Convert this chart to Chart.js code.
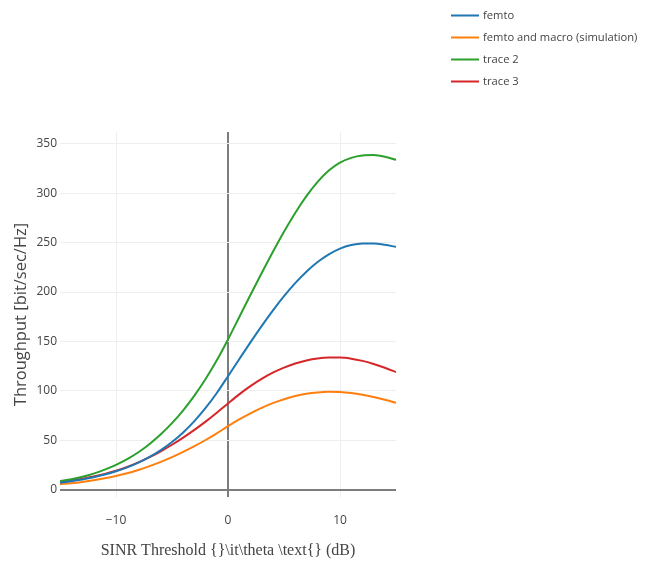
<!DOCTYPE html>
<html>
<head>
<meta charset="utf-8">
<script src="https://cdn.jsdelivr.net/npm/chart.js@4/dist/chart.umd.min.js"></script>
<style>
  html, body { margin: 0; padding: 0; background: #fff; }
  #wrap { width: 652px; height: 561px; }
</style>
</head>
<body>
<div id="wrap"><canvas id="c" width="652" height="561"></canvas></div>
<script>
// SINR threshold (dB)
const sinrDb = [-15,-14,-13,-12,-11,-10,-9,-8,-7,-6,-5,-4,-3,-2,-1,0,1,2,3,4,5,6,7,8,9,10,11,12,13,14,15];

// Throughput [bit/sec/Hz] per series
const femto = [7,8.5,10.3,12.5,15.2,18.5,22.5,27.3,33.1,40,48.2,57.9,69.3,82.6,97.8,114.8,132,149,165.5,181.2,195.8,209,220.6,230.4,238.2,244,247.6,249.2,249.2,247.9,245.7];
const femtoMacroSim = [5.5,6.5,7.8,9.4,11.4,13.8,16.6,19.9,23.7,28,32.8,38.1,43.9,50.2,57,64.2,71,77.2,82.7,87.5,91.5,94.7,97,98.4,99,98.8,97.8,96.1,93.8,91,87.8];
const trace2 = [8.5,10.5,13,16.2,20.2,25,30.8,37.8,46.2,56,67.3,80.3,95.2,112,130.9,152,174.5,197,219,240.5,261,280,297,311.5,323,331,335.8,338.2,338.6,337,333.8];
const trace3 = [8,9.4,11.1,13.2,15.8,19,22.9,27.5,32.8,38.8,45.4,52.6,60.4,68.8,77.8,87.2,96.4,104.7,112,118.3,123.5,127.6,130.6,132.6,133.6,133.6,132.5,130.3,127.2,123.4,119];

const seriesNames = ['femto', 'femto and macro (simulation)', 'trace 2', 'trace 3'];
const seriesColors = ['#1f77b4', '#ff7f0e', '#2ca02c', '#d62728'];
const seriesValues = [femto, femtoMacroSim, trace2, trace3];

const xTicks = [-10, 0, 10];
const yTicks = [0, 50, 100, 150, 200, 250, 300, 350];

const FONT = '"Open Sans", "Noto Sans", sans-serif';
const TEXT = '#444';

const datasets = seriesValues.map((vals, i) => ({
  label: seriesNames[i],
  data: sinrDb.map((x, k) => ({ x: x, y: vals[k] })),
  borderColor: seriesColors[i],
  backgroundColor: seriesColors[i],
  borderWidth: 2,
  pointRadius: 0,
  fill: false,
  cubicInterpolationMode: 'monotone'
}));

// Legend in the top-right corner, drawn after the plot
const cornerLegend = {
  id: 'cornerLegend',
  afterDraw(chart) {
    const ctx = chart.ctx;
    ctx.save();
    ctx.font = '11.2px ' + FONT;
    ctx.textBaseline = 'middle';
    ctx.textAlign = 'left';
    chart.data.datasets.forEach((ds, i) => {
      const y = 15.5 + i * 22;
      ctx.strokeStyle = ds.borderColor;
      ctx.lineWidth = 2;
      ctx.beginPath();
      ctx.moveTo(451, y);
      ctx.lineTo(479, y);
      ctx.stroke();
      ctx.fillStyle = TEXT;
      ctx.fillText(ds.label, 483, y);
    });
    ctx.restore();
  }
};

const zeroAware = (ctx) => (ctx.tick && ctx.tick.value === 0) ? '#7d7d7d' : '#eeeeee';
const zeroWidth = (ctx) => (ctx.tick && ctx.tick.value === 0) ? 2 : 1;

new Chart(document.getElementById('c'), {
  type: 'line',
  data: { datasets: datasets },
  plugins: [cornerLegend],
  options: {
    responsive: false,
    animation: false,
    layout: { padding: { top: 132, right: 256, bottom: 0, left: 0 } },
    plugins: {
      legend: { display: false },
      tooltip: { enabled: false }
    },
    scales: {
      x: {
        type: 'linear',
        min: -15,
        max: 15,
        afterBuildTicks: (s) => { s.ticks = xTicks.map(v => ({ value: v })); },
        afterFit: (s) => { s.height = 64; },
        border: { display: false },
        grid: { color: zeroAware, lineWidth: zeroWidth, drawTicks: false },
        ticks: {
          padding: 16,
          color: TEXT,
          font: { family: FONT, size: 12 },
          maxRotation: 0,
          callback: (v) => (v < 0 ? '\u2212' + Math.abs(v) : String(v))
        },
        title: {
          display: true,
          text: 'SINR Threshold {}\\it\\theta \\text{} (dB)',
          color: TEXT,
          font: { family: '"Liberation Serif", "DejaVu Serif", serif', size: 16 },
          padding: { top: 0, bottom: 1 }
        }
      },
      y: {
        type: 'linear',
        min: -7.5,
        max: 362,
        afterBuildTicks: (s) => { s.ticks = yTicks.map(v => ({ value: v })); },
        afterFit: (s) => { s.width = 60; },
        border: { display: false },
        grid: { color: zeroAware, lineWidth: zeroWidth, drawTicks: false },
        ticks: {
          padding: 3,
          color: TEXT,
          font: { family: FONT, size: 12 }
        },
        title: {
          display: true,
          text: 'Throughput [bit/sec/Hz]',
          color: TEXT,
          font: { family: FONT, size: 16.5 },
          padding: { top: 11, bottom: 0 }
        }
      }
    }
  }
});
</script>
</body>
</html>
